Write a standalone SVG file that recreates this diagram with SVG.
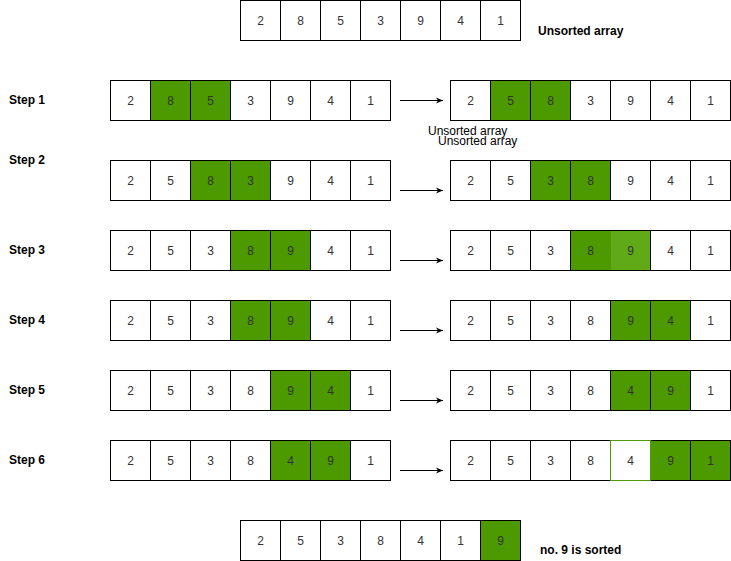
<svg xmlns="http://www.w3.org/2000/svg" width="731" height="561" viewBox="0 0 731 561">
<style>
.c{fill:#fff;stroke:#000;stroke-width:1}
.g{fill:#4d9900;stroke:#000;stroke-width:1}
.lg{fill:#60a917;stroke:#000;stroke-width:1}
.gb{fill:#fff;stroke:#4d9900;stroke-width:1}
.t{font-family:"Liberation Sans",Arial,sans-serif;font-size:12px;fill:#333;text-anchor:middle;dominant-baseline:central}
.l{font-family:"Liberation Sans",Arial,sans-serif;font-size:12px;fill:#000;font-weight:bold;dominant-baseline:central}
.n{font-family:"Liberation Sans",Arial,sans-serif;font-size:12px;fill:#000;dominant-baseline:central}
.a{stroke:#000;stroke-width:1;fill:none;marker-end:url(#ah)}
</style>
<defs>
<marker id="ah" markerWidth="8" markerHeight="8" refX="7" refY="4" orient="auto" markerUnits="userSpaceOnUse">
<path d="M0,1 L7,4 L0,7 L2,4 Z" fill="#000"/>
</marker>
<g id="cell"><rect class="c" x="0" y="0" width="40" height="40"/></g>
</defs>
<rect width="731" height="561" fill="#fff"/>

<g id="top">
<rect class="c" x="240.5" y="0.5" width="40" height="40"/><text class="t" x="260.5" y="20.5">2</text>
<rect class="c" x="280.5" y="0.5" width="40" height="40"/><text class="t" x="300.5" y="20.5">8</text>
<rect class="c" x="320.5" y="0.5" width="40" height="40"/><text class="t" x="340.5" y="20.5">5</text>
<rect class="c" x="360.5" y="0.5" width="40" height="40"/><text class="t" x="380.5" y="20.5">3</text>
<rect class="c" x="400.5" y="0.5" width="40" height="40"/><text class="t" x="420.5" y="20.5">9</text>
<rect class="c" x="440.5" y="0.5" width="40" height="40"/><text class="t" x="460.5" y="20.5">4</text>
<rect class="c" x="480.5" y="0.5" width="40" height="40"/><text class="t" x="500.5" y="20.5">1</text>
</g>
<text class="l" x="538" y="31">Unsorted array</text>

<g id="labels">
<text class="l" x="9" y="100">Step 1</text>
<text class="l" x="9" y="160">Step 2</text>
<text class="l" x="9" y="250">Step 3</text>
<text class="l" x="9" y="320">Step 4</text>
<text class="l" x="9" y="390">Step 5</text>
<text class="l" x="9" y="460">Step 6</text>
</g>

<g id="s1l">
<rect class="c" x="110.5" y="80.5" width="40" height="40"/><text class="t" x="130.5" y="100.5">2</text>
<rect class="g" x="150.5" y="80.5" width="40" height="40"/><text class="t" x="170.5" y="100.5">8</text>
<rect class="g" x="190.5" y="80.5" width="40" height="40"/><text class="t" x="210.5" y="100.5">5</text>
<rect class="c" x="230.5" y="80.5" width="40" height="40"/><text class="t" x="250.5" y="100.5">3</text>
<rect class="c" x="270.5" y="80.5" width="40" height="40"/><text class="t" x="290.5" y="100.5">9</text>
<rect class="c" x="310.5" y="80.5" width="40" height="40"/><text class="t" x="330.5" y="100.5">4</text>
<rect class="c" x="350.5" y="80.5" width="40" height="40"/><text class="t" x="370.5" y="100.5">1</text>
</g>
<g id="s1r">
<rect class="c" x="450.5" y="80.5" width="40" height="40"/><text class="t" x="470.5" y="100.5">2</text>
<rect class="g" x="490.5" y="80.5" width="40" height="40"/><text class="t" x="510.5" y="100.5">5</text>
<rect class="g" x="530.5" y="80.5" width="40" height="40"/><text class="t" x="550.5" y="100.5">8</text>
<rect class="c" x="570.5" y="80.5" width="40" height="40"/><text class="t" x="590.5" y="100.5">3</text>
<rect class="c" x="610.5" y="80.5" width="40" height="40"/><text class="t" x="630.5" y="100.5">9</text>
<rect class="c" x="650.5" y="80.5" width="40" height="40"/><text class="t" x="670.5" y="100.5">4</text>
<rect class="c" x="690.5" y="80.5" width="40" height="40"/><text class="t" x="710.5" y="100.5">1</text>
</g>
<text class="n" x="428" y="131">Unsorted array</text>
<text class="n" x="438" y="141">Unsorted array</text>

<g id="s2l">
<rect class="c" x="110.5" y="160.5" width="40" height="40"/><text class="t" x="130.5" y="180.5">2</text>
<rect class="c" x="150.5" y="160.5" width="40" height="40"/><text class="t" x="170.5" y="180.5">5</text>
<rect class="g" x="190.5" y="160.5" width="40" height="40"/><text class="t" x="210.5" y="180.5">8</text>
<rect class="g" x="230.5" y="160.5" width="40" height="40"/><text class="t" x="250.5" y="180.5">3</text>
<rect class="c" x="270.5" y="160.5" width="40" height="40"/><text class="t" x="290.5" y="180.5">9</text>
<rect class="c" x="310.5" y="160.5" width="40" height="40"/><text class="t" x="330.5" y="180.5">4</text>
<rect class="c" x="350.5" y="160.5" width="40" height="40"/><text class="t" x="370.5" y="180.5">1</text>
</g>
<g id="s2r">
<rect class="c" x="450.5" y="160.5" width="40" height="40"/><text class="t" x="470.5" y="180.5">2</text>
<rect class="c" x="490.5" y="160.5" width="40" height="40"/><text class="t" x="510.5" y="180.5">5</text>
<rect class="g" x="530.5" y="160.5" width="40" height="40"/><text class="t" x="550.5" y="180.5">3</text>
<rect class="g" x="570.5" y="160.5" width="40" height="40"/><text class="t" x="590.5" y="180.5">8</text>
<rect class="c" x="610.5" y="160.5" width="40" height="40"/><text class="t" x="630.5" y="180.5">9</text>
<rect class="c" x="650.5" y="160.5" width="40" height="40"/><text class="t" x="670.5" y="180.5">4</text>
<rect class="c" x="690.5" y="160.5" width="40" height="40"/><text class="t" x="710.5" y="180.5">1</text>
</g>

<g id="s3l">
<rect class="c" x="110.5" y="230.5" width="40" height="40"/><text class="t" x="130.5" y="250.5">2</text>
<rect class="c" x="150.5" y="230.5" width="40" height="40"/><text class="t" x="170.5" y="250.5">5</text>
<rect class="c" x="190.5" y="230.5" width="40" height="40"/><text class="t" x="210.5" y="250.5">3</text>
<rect class="g" x="230.5" y="230.5" width="40" height="40"/><text class="t" x="250.5" y="250.5">8</text>
<rect class="g" x="270.5" y="230.5" width="40" height="40"/><text class="t" x="290.5" y="250.5">9</text>
<rect class="c" x="310.5" y="230.5" width="40" height="40"/><text class="t" x="330.5" y="250.5">4</text>
<rect class="c" x="350.5" y="230.5" width="40" height="40"/><text class="t" x="370.5" y="250.5">1</text>
</g>
<g id="s3r">
<rect class="c" x="450.5" y="230.5" width="40" height="40"/><text class="t" x="470.5" y="250.5">2</text>
<rect class="c" x="490.5" y="230.5" width="40" height="40"/><text class="t" x="510.5" y="250.5">5</text>
<rect class="c" x="530.5" y="230.5" width="40" height="40"/><text class="t" x="550.5" y="250.5">3</text>
<rect class="g" x="570.5" y="230.5" width="40" height="40"/><text class="t" x="590.5" y="250.5">8</text>
<rect class="lg" x="610.5" y="230.5" width="40" height="40" stroke="#60a917" style="stroke:#4d9900"/><text class="t" x="630.5" y="250.5">9</text>
<rect class="c" x="650.5" y="230.5" width="40" height="40"/><text class="t" x="670.5" y="250.5">4</text>
<rect class="c" x="690.5" y="230.5" width="40" height="40"/><text class="t" x="710.5" y="250.5">1</text>
<path d="M450.5 230.5H730.5V270.5H450.5Z" fill="none" stroke="#000"/>
</g>

<g id="s4l">
<rect class="c" x="110.5" y="300.5" width="40" height="40"/><text class="t" x="130.5" y="320.5">2</text>
<rect class="c" x="150.5" y="300.5" width="40" height="40"/><text class="t" x="170.5" y="320.5">5</text>
<rect class="c" x="190.5" y="300.5" width="40" height="40"/><text class="t" x="210.5" y="320.5">3</text>
<rect class="g" x="230.5" y="300.5" width="40" height="40"/><text class="t" x="250.5" y="320.5">8</text>
<rect class="g" x="270.5" y="300.5" width="40" height="40"/><text class="t" x="290.5" y="320.5">9</text>
<rect class="c" x="310.5" y="300.5" width="40" height="40"/><text class="t" x="330.5" y="320.5">4</text>
<rect class="c" x="350.5" y="300.5" width="40" height="40"/><text class="t" x="370.5" y="320.5">1</text>
</g>
<g id="s4r">
<rect class="c" x="450.5" y="300.5" width="40" height="40"/><text class="t" x="470.5" y="320.5">2</text>
<rect class="c" x="490.5" y="300.5" width="40" height="40"/><text class="t" x="510.5" y="320.5">5</text>
<rect class="c" x="530.5" y="300.5" width="40" height="40"/><text class="t" x="550.5" y="320.5">3</text>
<rect class="c" x="570.5" y="300.5" width="40" height="40"/><text class="t" x="590.5" y="320.5">8</text>
<rect class="g" x="610.5" y="300.5" width="40" height="40"/><text class="t" x="630.5" y="320.5">9</text>
<rect class="g" x="650.5" y="300.5" width="40" height="40"/><text class="t" x="670.5" y="320.5">4</text>
<rect class="c" x="690.5" y="300.5" width="40" height="40"/><text class="t" x="710.5" y="320.5">1</text>
</g>

<g id="s5l">
<rect class="c" x="110.5" y="370.5" width="40" height="40"/><text class="t" x="130.5" y="390.5">2</text>
<rect class="c" x="150.5" y="370.5" width="40" height="40"/><text class="t" x="170.5" y="390.5">5</text>
<rect class="c" x="190.5" y="370.5" width="40" height="40"/><text class="t" x="210.5" y="390.5">3</text>
<rect class="c" x="230.5" y="370.5" width="40" height="40"/><text class="t" x="250.5" y="390.5">8</text>
<rect class="g" x="270.5" y="370.5" width="40" height="40"/><text class="t" x="290.5" y="390.5">9</text>
<rect class="g" x="310.5" y="370.5" width="40" height="40"/><text class="t" x="330.5" y="390.5">4</text>
<rect class="c" x="350.5" y="370.5" width="40" height="40"/><text class="t" x="370.5" y="390.5">1</text>
</g>
<g id="s5r">
<rect class="c" x="450.5" y="370.5" width="40" height="40"/><text class="t" x="470.5" y="390.5">2</text>
<rect class="c" x="490.5" y="370.5" width="40" height="40"/><text class="t" x="510.5" y="390.5">5</text>
<rect class="c" x="530.5" y="370.5" width="40" height="40"/><text class="t" x="550.5" y="390.5">3</text>
<rect class="c" x="570.5" y="370.5" width="40" height="40"/><text class="t" x="590.5" y="390.5">8</text>
<rect class="g" x="610.5" y="370.5" width="40" height="40"/><text class="t" x="630.5" y="390.5">4</text>
<rect class="g" x="650.5" y="370.5" width="40" height="40"/><text class="t" x="670.5" y="390.5">9</text>
<rect class="c" x="690.5" y="370.5" width="40" height="40"/><text class="t" x="710.5" y="390.5">1</text>
</g>

<g id="s6l">
<rect class="c" x="110.5" y="440.5" width="40" height="40"/><text class="t" x="130.5" y="460.5">2</text>
<rect class="c" x="150.5" y="440.5" width="40" height="40"/><text class="t" x="170.5" y="460.5">5</text>
<rect class="c" x="190.5" y="440.5" width="40" height="40"/><text class="t" x="210.5" y="460.5">3</text>
<rect class="c" x="230.5" y="440.5" width="40" height="40"/><text class="t" x="250.5" y="460.5">8</text>
<rect class="g" x="270.5" y="440.5" width="40" height="40"/><text class="t" x="290.5" y="460.5">4</text>
<rect class="g" x="310.5" y="440.5" width="40" height="40"/><text class="t" x="330.5" y="460.5">9</text>
<rect class="c" x="350.5" y="440.5" width="40" height="40"/><text class="t" x="370.5" y="460.5">1</text>
</g>
<g id="s6r">
<rect class="c" x="450.5" y="440.5" width="40" height="40"/><text class="t" x="470.5" y="460.5">2</text>
<rect class="c" x="490.5" y="440.5" width="40" height="40"/><text class="t" x="510.5" y="460.5">5</text>
<rect class="c" x="530.5" y="440.5" width="40" height="40"/><text class="t" x="550.5" y="460.5">3</text>
<rect class="c" x="570.5" y="440.5" width="40" height="40"/><text class="t" x="590.5" y="460.5">8</text>
<rect class="g" x="650.5" y="440.5" width="40" height="40"/><text class="t" x="670.5" y="460.5">9</text>
<rect class="g" x="690.5" y="440.5" width="40" height="40"/><text class="t" x="710.5" y="460.5">1</text>
<rect class="gb" x="610.5" y="440.5" width="40" height="40"/><text class="t" x="630.5" y="460.5">4</text>
</g>

<g id="bottom">
<rect class="c" x="240.5" y="520.5" width="40" height="40"/><text class="t" x="260.5" y="540.5">2</text>
<rect class="c" x="280.5" y="520.5" width="40" height="40"/><text class="t" x="300.5" y="540.5">5</text>
<rect class="c" x="320.5" y="520.5" width="40" height="40"/><text class="t" x="340.5" y="540.5">3</text>
<rect class="c" x="360.5" y="520.5" width="40" height="40"/><text class="t" x="380.5" y="540.5">8</text>
<rect class="c" x="400.5" y="520.5" width="40" height="40"/><text class="t" x="420.5" y="540.5">4</text>
<rect class="c" x="440.5" y="520.5" width="40" height="40"/><text class="t" x="460.5" y="540.5">1</text>
<rect class="g" x="480.5" y="520.5" width="40" height="40"/><text class="t" x="500.5" y="540.5">9</text>
</g>
<text class="l" x="540" y="550">no. 9 is sorted</text>

<g id="connectors">
<path class="a" d="M400 100.5H443"/>
<path class="a" d="M400 190.5H443"/>
<path class="a" d="M400 260.5H443"/>
<path class="a" d="M400 330.5H443"/>
<path class="a" d="M400 400.5H443"/>
<path class="a" d="M400 470.5H443"/>
</g>
</svg>
